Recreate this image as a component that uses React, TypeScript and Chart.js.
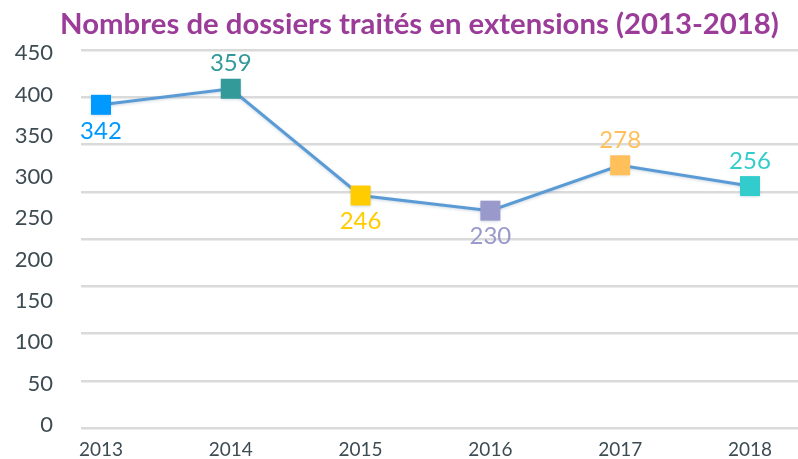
import React, { useEffect, useRef } from "react";
import { Chart, registerables } from "chart.js";

Chart.register(...registerables);

const titleText = "Nombres de dossiers traités en extensions (2013-2018)";
const years = [2013, 2014, 2015, 2016, 2017, 2018];
const dossiers = [342, 359, 246, 230, 278, 256];
const pointColors = ["#0099ff", "#339999", "#ffcc00", "#9999cc", "#ffc05c", "#33cccc"];
const labelPlacement = ["below", "above", "below", "below", "above", "above"];
const yTickLabels = [0, 50, 100, 150, 200, 250, 300, 350, 400, 450];
const gridMax = 400;
const gridStep = 50;

const FONT = "Lato, 'Open Sans', sans-serif";
const TICK_COLOR = "#3d4b52";

const titlePlugin = {
  id: "customTitle",
  afterDraw(chart: any) {
    const ctx = chart.ctx;
    ctx.save();
    ctx.font = `bold 29.3px ${FONT}`;
    ctx.fillStyle = "#9a3c98";
    ctx.textAlign = "center";
    ctx.textBaseline = "middle";
    ctx.fillText(titleText, 419.5, 25);
    ctx.restore();
  },
};

const lineShadowPlugin = {
  id: "lineShadow",
  beforeDatasetDraw(chart: any) {
    const ctx = chart.ctx;
    ctx.save();
    ctx.shadowColor = "rgba(60, 100, 140, 0.25)";
    ctx.shadowBlur = 3;
    ctx.shadowOffsetY = 1;
  },
  afterDatasetDraw(chart: any) {
    chart.ctx.restore();
  },
};

const dataLabelPlugin = {
  id: "dataLabels",
  afterDatasetsDraw(chart: any) {
    const ctx = chart.ctx;
    const meta = chart.getDatasetMeta(0);
    ctx.save();
    ctx.font = `24px ${FONT}`;
    ctx.textAlign = "center";
    ctx.textBaseline = "middle";
    meta.data.forEach((pt: any, i: number) => {
      const off = labelPlacement[i] === "above" ? -25 : 26;
      ctx.fillStyle = pointColors[i];
      ctx.fillText(String(dossiers[i]), pt.x, pt.y + off);
    });
    ctx.restore();
  },
};

const zeroPad = (s: any) => {
  s.paddingLeft = 0;
  s.paddingRight = 0;
  s.paddingTop = 0;
  s.paddingBottom = 0;
};

export default function App() {
  const canvasRef = useRef<HTMLCanvasElement | null>(null);

  useEffect(() => {
    document.body.style.margin = "0";
    const canvas = canvasRef.current;
    if (!canvas) return;
    const chart = new Chart(canvas, {
      type: "line",
      data: {
        datasets: [
          {
            data: years.map((y, i) => ({ x: y, y: dossiers[i] })),
            xAxisID: "x",
            yAxisID: "y",
            borderColor: "#5b9bd5",
            borderWidth: 3,
            pointStyle: "rect",
            pointRadius: 14.14,
            pointHoverRadius: 14.14,
            pointBorderWidth: 0,
            pointBackgroundColor: pointColors,
            tension: 0,
          },
        ],
      },
      options: {
        animation: false,
        responsive: false,
        maintainAspectRatio: false,
        layout: { autoPadding: false, padding: { top: 50, left: 0, right: 0, bottom: 0 } },
        plugins: {
          legend: { display: false },
          title: { display: false },
          tooltip: { enabled: false },
        },
        scales: {
          x: {
            type: "linear",
            position: "bottom",
            min: 2012.846,
            max: 2018.37,
            grid: { display: false, drawTicks: false },
            border: { display: false },
            ticks: {
              stepSize: 1,
              includeBounds: false,
              padding: 12,
              color: TICK_COLOR,
              font: { family: FONT, size: 19, lineHeight: 1.0 },
              callback: (v: any) => String(v),
            },
            afterFit: (s: any) => {
              s.height = 31;
              zeroPad(s);
            },
          },
          y: {
            type: "linear",
            position: "left",
            min: 0,
            max: gridMax,
            grid: { display: true, drawTicks: false, color: "#dadada", lineWidth: 2.5 },
            border: { display: false },
            ticks: { display: false, stepSize: gridStep },
            afterFit: (s: any) => {
              s.width = 0;
              zeroPad(s);
            },
          },
          yl: {
            type: "linear",
            position: "left",
            min: -4,
            max: 454,
            grid: { display: false, drawTicks: false },
            border: { display: false },
            ticks: {
              padding: 28,
              color: TICK_COLOR,
              font: { family: FONT, size: 22 },
            },
            afterBuildTicks: (axis: any) => {
              axis.ticks = yTickLabels.map((v) => ({ value: v }));
            },
            afterFit: (s: any) => {
              s.width = 81;
              zeroPad(s);
            },
          },
        },
      },
      plugins: [titlePlugin, lineShadowPlugin, dataLabelPlugin],
    });
    return () => chart.destroy();
  }, []);

  return (
    <div style={{ width: 798, height: 459, background: "#fff" }}>
      <canvas ref={canvasRef} width={798} height={459} style={{ display: "block" }} />
    </div>
  );
}
